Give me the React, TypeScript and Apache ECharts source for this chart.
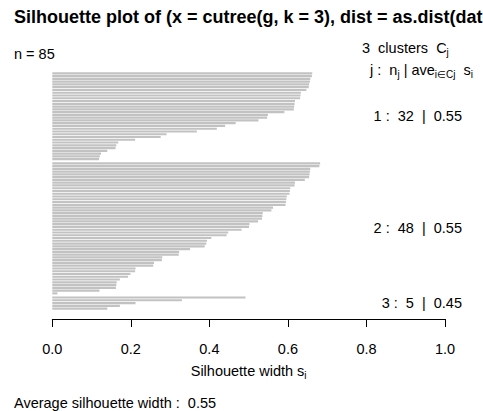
import React, { useEffect, useRef } from "react";
import * as echarts from "echarts";

// Silhouette widths per cluster (sorted descending, top to bottom)
const cluster1 = [0.662, 0.661, 0.657, 0.656, 0.654, 0.653, 0.647, 0.633, 0.632, 0.631, 0.618, 0.617, 0.616, 0.615, 0.591, 0.549, 0.547, 0.525, 0.467, 0.44, 0.419, 0.368, 0.291, 0.276, 0.211, 0.168, 0.163, 0.161, 0.14, 0.124, 0.121, 0.119];
const cluster2 = [0.682, 0.68, 0.657, 0.656, 0.655, 0.654, 0.643, 0.618, 0.617, 0.606, 0.605, 0.604, 0.597, 0.596, 0.595, 0.594, 0.562, 0.558, 0.536, 0.535, 0.534, 0.524, 0.502, 0.501, 0.482, 0.448, 0.444, 0.405, 0.394, 0.392, 0.388, 0.351, 0.323, 0.322, 0.28, 0.279, 0.259, 0.257, 0.212, 0.211, 0.199, 0.193, 0.172, 0.164, 0.163, 0.162, 0.12, 0.013];
const cluster3 = [0.492, 0.33, 0.212, 0.172, 0.14];
const clusterAverages = ["0.55", "0.55", "0.45"];
const clusterIds = ["1", "2", "3"];
const xTickLabels = ["0.0", "0.2", "0.4", "0.6", "0.8", "1.0"];
const totalN = 85;
const overallAverage = "0.55";
const titleText = "Silhouette plot of (x = cutree(g, k = 3), dist = as.dist(dat";

const FONT = "'Liberation Sans', Arial, sans-serif";
const FS = 14.5;

export default function App() {
  const ref = useRef<HTMLDivElement>(null);

  useEffect(() => {
    if (!ref.current) return;
    const chart = echarts.init(ref.current, null, { renderer: "svg" });
    const clusters = [cluster1, cluster2, cluster3];
    const data: number[][] = [];
    const centers: number[] = [];
    let pos = 0;
    clusters.forEach((c, ci) => {
      if (ci > 0) pos += 0.5;
      const start = pos;
      c.forEach((v) => {
        data.push([v, pos]);
        pos += 1;
      });
      centers.push((start + pos) / 2);
    });
    const total = pos;

    const baseOption: any = {
      animation: false,
      grid: { left: 52.3, right: 38, top: 72, bottom: 101, containLabel: false },
      xAxis: {
        type: "value",
        min: 0,
        max: 1,
        interval: 0.2,
        position: "bottom",
        offset: 9,
        axisLine: { show: true, onZero: false, lineStyle: { color: "#000", width: 1 } },
        axisTick: { show: true, length: 8, lineStyle: { color: "#000", width: 1 } },
        axisLabel: {
          color: "#000",
          fontFamily: FONT,
          fontSize: FS,
          margin: 22,
          formatter: (v: number) => xTickLabels[Math.round(v / 0.2)] ?? v.toFixed(1),
        },
        splitLine: { show: false },
      },
      yAxis: { type: "value", min: 0, max: total, inverse: true, show: false },
      series: [
        {
          type: "custom",
          data,
          encode: { x: 0, y: 1 },
          renderItem: (params: any, api: any) => {
            const v = api.value(0);
            const y = api.value(1);
            const p0 = api.coord([0, y]);
            const p1 = api.coord([v, y + 1]);
            const h = p1[1] - p0[1];
            return {
              type: "rect",
              shape: { x: p0[0], y: p0[1] + h * 0.1, width: p1[0] - p0[0], height: h * 0.78 },
              style: { fill: "#c2c2c2" },
            };
          },
        },
      ],
    };
    chart.setOption(baseOption);

    const labelYs = centers.map((c) => chart.convertToPixel({ yAxisIndex: 0 }, c) as number);
    const axisMid = ((chart.convertToPixel({ xAxisIndex: 0 }, 0) as number) + (chart.convertToPixel({ xAxisIndex: 0 }, 1) as number)) / 2;

    const sub = { fontSize: 10, fontFamily: FONT, fill: "#000", padding: [9, 0, 0, 0] };
    const base = { fontSize: FS, fontFamily: FONT, fill: "#000" };

    const graphics: any[] = [
      {
        type: "text",
        left: 14,
        top: 8,
        style: { text: titleText, font: `bold 18px ${FONT}`, fill: "#000" },
      },
      {
        type: "text",
        x: 14,
        y: 54,
        style: { text: `n = ${totalN}`, fontSize: FS, fontFamily: FONT, fill: "#000", verticalAlign: "middle" },
      },
      {
        type: "text",
        x: 362,
        y: 48,
        style: {
          text: `{b|${clusters.length}  clusters  C}{s|j}`,
          verticalAlign: "middle",
          rich: { b: base, s: sub },
        },
      },
      {
        type: "text",
        x: 370,
        y: 70,
        style: {
          text: "{b|j :  n}{s|j}{b| | ave}{s|i∈Cj}{b|  s}{s|i}",
          verticalAlign: "middle",
          rich: { b: base, s: sub },
        },
      },
      ...clusters.map((c, i) => ({
        type: "text",
        x: 462,
        y: labelYs[i],
        style: {
          text: `${clusterIds[i]} :  ${c.length}  |  ${clusterAverages[i]}`,
          fontSize: FS,
          fontFamily: FONT,
          fill: "#000",
          align: "right",
          verticalAlign: "middle",
        },
      })),
      {
        type: "text",
        x: axisMid,
        y: 371,
        style: {
          text: "{b|Silhouette width s}{s|i}",
          align: "center",
          verticalAlign: "middle",
          rich: { b: base, s: sub },
        },
      },
      {
        type: "text",
        x: 14,
        y: 403,
        style: {
          text: `Average silhouette width :  ${overallAverage}`,
          fontSize: FS,
          fontFamily: FONT,
          fill: "#000",
          verticalAlign: "middle",
        },
      },
    ];
    chart.setOption({ graphic: graphics });

    return () => chart.dispose();
  }, []);

  return (
    <div
      ref={ref}
      style={{ position: "absolute", left: 0, top: 0, width: 483, height: 411, background: "#fff" }}
    />
  );
}
